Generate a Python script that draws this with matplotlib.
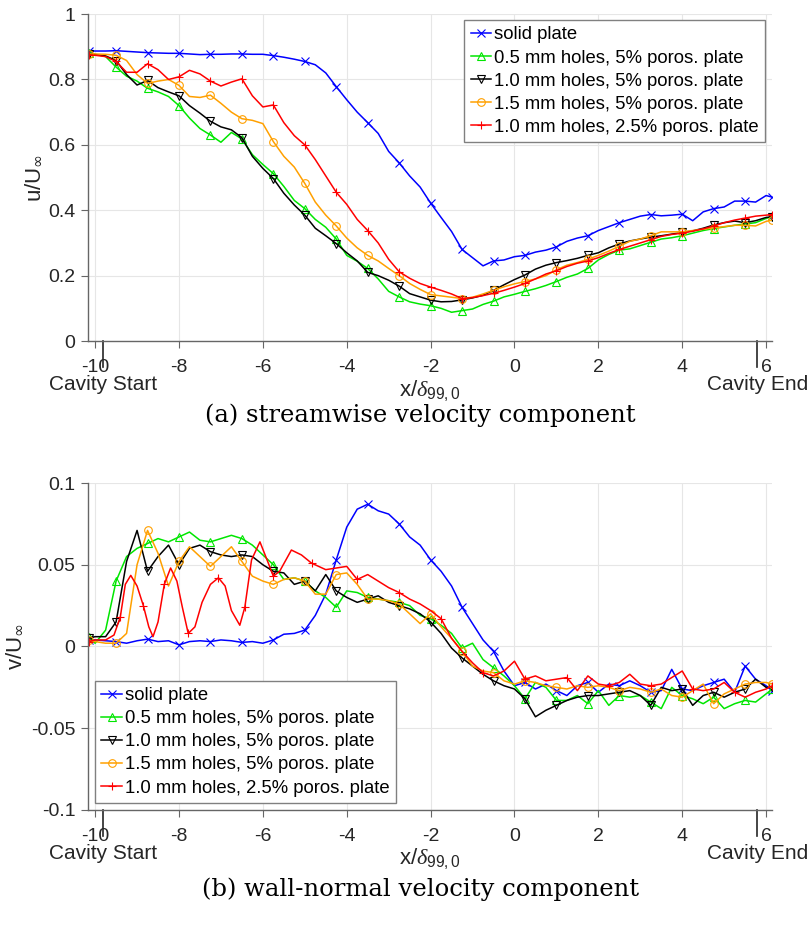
import matplotlib
matplotlib.use("Agg")
import matplotlib.pyplot as plt
from matplotlib.ticker import FuncFormatter
from matplotlib.transforms import blended_transform_factory

plt.rcParams['font.family'] = ['Liberation Sans', 'DejaVu Sans']
plt.rcParams['axes.unicode_minus'] = False
plt.rcParams['mathtext.fontset'] = 'custom'
plt.rcParams['mathtext.rm'] = 'Liberation Sans'
plt.rcParams['mathtext.it'] = 'Liberation Serif:italic'
plt.rcParams['mathtext.bf'] = 'Liberation Sans:bold'

# x/delta_99,0 sample positions (shared by most series)
x_pos = [-10.15, -10.0, -9.75, -9.5, -9.25, -9.0, -8.75, -8.5, -8.25, -8.0,
         -7.75, -7.5, -7.25, -7.0, -6.75, -6.5, -6.25, -6.0, -5.75, -5.5,
         -5.25, -5.0, -4.75, -4.5, -4.25, -4.0, -3.75, -3.5, -3.25, -3.0,
         -2.75, -2.5, -2.25, -2.0, -1.75, -1.5, -1.25, -1.0, -0.75, -0.5,
         -0.25, 0.0, 0.25, 0.5, 0.75, 1.0, 1.25, 1.5, 1.75, 2.0,
         2.25, 2.5, 2.75, 3.0, 3.25, 3.5, 3.75, 4.0, 4.25, 4.5,
         4.75, 5.0, 5.25, 5.5, 5.75, 6.0, 6.15]

# streamwise velocity u/U_inf
u_solid = [0.888, 0.887, 0.887, 0.888, 0.886, 0.884, 0.882, 0.881, 0.880, 0.880,
           0.878, 0.876, 0.877, 0.877, 0.878, 0.878, 0.877, 0.877, 0.873, 0.868,
           0.862, 0.855, 0.845, 0.820, 0.778, 0.738, 0.700, 0.668, 0.635, 0.580,
           0.545, 0.505, 0.471, 0.422, 0.378, 0.335, 0.280, 0.255, 0.230, 0.245,
           0.248, 0.258, 0.262, 0.272, 0.278, 0.288, 0.305, 0.315, 0.322, 0.338,
           0.350, 0.362, 0.372, 0.382, 0.387, 0.383, 0.385, 0.388, 0.368, 0.395,
           0.405, 0.410, 0.428, 0.428, 0.425, 0.445, 0.440]
u_05 = [0.880, 0.877, 0.870, 0.838, 0.810, 0.795, 0.773, 0.762, 0.748, 0.720,
        0.682, 0.650, 0.630, 0.608, 0.638, 0.618, 0.570, 0.540, 0.512, 0.473,
        0.430, 0.405, 0.372, 0.348, 0.312, 0.262, 0.244, 0.222, 0.190, 0.152,
        0.135, 0.120, 0.113, 0.108, 0.100, 0.088, 0.093, 0.098, 0.112, 0.122,
        0.135, 0.143, 0.152, 0.160, 0.170, 0.182, 0.195, 0.205, 0.222, 0.248,
        0.265, 0.278, 0.282, 0.292, 0.302, 0.312, 0.316, 0.322, 0.330, 0.338,
        0.344, 0.349, 0.354, 0.358, 0.362, 0.375, 0.382]
u_10 = [0.877, 0.876, 0.872, 0.858, 0.815, 0.783, 0.797, 0.775, 0.762, 0.750,
        0.720, 0.697, 0.672, 0.655, 0.646, 0.622, 0.565, 0.528, 0.497, 0.452,
        0.416, 0.385, 0.345, 0.322, 0.298, 0.270, 0.245, 0.210, 0.200, 0.186,
        0.168, 0.145, 0.135, 0.125, 0.120, 0.121, 0.126, 0.132, 0.140, 0.155,
        0.172, 0.188, 0.202, 0.220, 0.232, 0.240, 0.246, 0.253, 0.262, 0.270,
        0.285, 0.297, 0.306, 0.312, 0.318, 0.322, 0.327, 0.332, 0.337, 0.345,
        0.355, 0.362, 0.367, 0.362, 0.368, 0.378, 0.380]
u_15 = [0.878, 0.878, 0.877, 0.874, 0.858, 0.815, 0.788, 0.795, 0.800, 0.782,
        0.748, 0.745, 0.752, 0.727, 0.700, 0.680, 0.675, 0.665, 0.610, 0.565,
        0.532, 0.482, 0.425, 0.385, 0.352, 0.315, 0.285, 0.262, 0.245, 0.222,
        0.200, 0.176, 0.158, 0.142, 0.138, 0.134, 0.130, 0.134, 0.144, 0.155,
        0.166, 0.175, 0.182, 0.190, 0.200, 0.218, 0.232, 0.240, 0.250, 0.262,
        0.275, 0.290, 0.305, 0.312, 0.322, 0.334, 0.334, 0.334, 0.338, 0.342,
        0.346, 0.350, 0.354, 0.354, 0.352, 0.366, 0.370]
u_25 = [0.875, 0.874, 0.870, 0.855, 0.822, 0.822, 0.848, 0.830, 0.800, 0.808,
        0.828, 0.817, 0.795, 0.780, 0.792, 0.802, 0.750, 0.716, 0.722, 0.668,
        0.628, 0.600, 0.555, 0.505, 0.455, 0.418, 0.372, 0.338, 0.300, 0.250,
        0.212, 0.192, 0.176, 0.165, 0.155, 0.144, 0.130, 0.133, 0.139, 0.146,
        0.155, 0.165, 0.176, 0.190, 0.205, 0.215, 0.228, 0.238, 0.245, 0.255,
        0.268, 0.280, 0.290, 0.300, 0.310, 0.320, 0.326, 0.330, 0.336, 0.343,
        0.352, 0.362, 0.370, 0.376, 0.382, 0.385, 0.387]

# wall-normal velocity v/U_inf
v_solid = [0.004, 0.004, 0.0035, 0.003, 0.002, 0.0035, 0.0045, 0.003, 0.0035, 0.001,
           0.003, 0.0035, 0.003, 0.004, 0.0035, 0.0025, 0.003, 0.002, 0.004, 0.0075,
           0.008, 0.010, 0.019, 0.032, 0.053, 0.073, 0.084, 0.087, 0.083, 0.081,
           0.075, 0.067, 0.062, 0.053, 0.046, 0.037, 0.024, 0.014, 0.004, -0.003,
           -0.015, -0.024, -0.022, -0.026, -0.023, -0.027, -0.030, -0.024, -0.022, -0.028,
           -0.023, -0.024, -0.021, -0.024, -0.028, -0.027, -0.014, -0.026, -0.027, -0.024,
           -0.022, -0.020, -0.028, -0.012, -0.020, -0.024, -0.027]
v_05 = [0.006, 0.002, 0.010, 0.040, 0.055, 0.060, 0.063, 0.066, 0.064, 0.067,
        0.070, 0.065, 0.064, 0.066, 0.068, 0.066, 0.062, 0.056, 0.050, 0.041,
        0.042, 0.040, 0.034, 0.030, 0.024, 0.034, 0.033, 0.030, 0.029, 0.028,
        0.027, 0.025, 0.019, 0.017, 0.013, 0.008, -0.001, 0.002, -0.008, -0.013,
        -0.018, -0.024, -0.032, -0.022, -0.025, -0.033, -0.033, -0.030, -0.035, -0.027,
        -0.036, -0.030, -0.031, -0.030, -0.034, -0.038, -0.025, -0.030, -0.032, -0.035,
        -0.031, -0.038, -0.035, -0.033, -0.034, -0.029, -0.026]
v_10 = [0.005, 0.006, 0.006, 0.015, 0.052, 0.071, 0.046, 0.055, 0.062, 0.050,
        0.060, 0.062, 0.058, 0.056, 0.055, 0.056, 0.055, 0.050, 0.046, 0.045,
        0.038, 0.040, 0.034, 0.044, 0.034, 0.030, 0.027, 0.029, 0.031, 0.027,
        0.025, 0.023, 0.020, 0.015, 0.008, -0.001, -0.007, -0.012, -0.017, -0.021,
        -0.024, -0.026, -0.032, -0.043, -0.039, -0.036, -0.033, -0.031, -0.030, -0.030,
        -0.029, -0.028, -0.027, -0.030, -0.036, -0.025, -0.027, -0.026, -0.036, -0.030,
        -0.028, -0.031, -0.028, -0.026, -0.020, -0.025, -0.025]
v_15 = [0.004, 0.003, 0.002, 0.002, 0.008, 0.050, 0.071, 0.057, 0.037, 0.052,
        0.061, 0.055, 0.049, 0.055, 0.061, 0.052, 0.043, 0.040, 0.038, 0.041,
        0.042, 0.040, 0.032, 0.032, 0.044, 0.045, 0.038, 0.029, 0.029, 0.028,
        0.026, 0.020, 0.014, 0.020, 0.012, 0.005, -0.003, -0.012, -0.015, -0.016,
        -0.021, -0.023, -0.021, -0.022, -0.024, -0.025, -0.026, -0.024, -0.025, -0.024,
        -0.025, -0.027, -0.025, -0.026, -0.028, -0.026, -0.030, -0.031, -0.027, -0.023,
        -0.035, -0.029, -0.026, -0.023, -0.022, -0.022, -0.023]
# red series oscillates fast near the cavity start, so it gets its own positions
x_pos_25 = [-10.15, -10.0, -9.75, -9.55, -9.4, -9.28, -9.15, -9.0, -8.85, -8.72,
            -8.62, -8.5, -8.35, -8.2, -8.05, -7.92, -7.78, -7.62, -7.45, -7.25,
            -7.06, -6.9, -6.75, -6.55, -6.43, -6.27, -6.07, -5.87, -5.75, -5.6,
            -5.32, -5.08, -4.84, -4.5, -4.25, -4.0, -3.75, -3.5, -3.25, -3.0,
            -2.75, -2.5, -2.25, -2.0, -1.75, -1.5, -1.25, -1.0, -0.75, -0.5,
            -0.25, 0.0, 0.25, 0.5, 0.75, 1.0, 1.25, 1.5, 1.75, 2.0,
            2.25, 2.5, 2.75, 3.0, 3.25, 3.5, 3.75, 4.0, 4.25, 4.5,
            4.75, 5.0, 5.25, 5.5, 5.75, 6.0, 6.15]
v_25 = [0.003, 0.004, 0.004, 0.007, 0.018, 0.038, 0.0435, 0.037, 0.025, 0.012,
        0.006, 0.015, 0.038, 0.048, 0.040, 0.024, 0.008, 0.012, 0.027, 0.038,
        0.042, 0.037, 0.022, 0.013, 0.024, 0.053, 0.064, 0.051, 0.043, 0.046,
        0.059, 0.056, 0.051, 0.047, 0.048, 0.049, 0.041, 0.044, 0.040, 0.036,
        0.033, 0.029, 0.026, 0.022, 0.017, 0.005, -0.003, -0.010, -0.016, -0.018,
        -0.015, -0.009, -0.020, -0.018, -0.021, -0.020, -0.019, -0.027, -0.018, -0.023,
        -0.024, -0.022, -0.017, -0.023, -0.024, -0.023, -0.019, -0.015, -0.026, -0.027,
        -0.026, -0.022, -0.028, -0.031, -0.028, -0.026, -0.024]

labels = ['solid plate', '0.5 mm holes, 5% poros. plate', '1.0 mm holes, 5% poros. plate',
          '1.5 mm holes, 5% poros. plate', '1.0 mm holes, 2.5% poros. plate']
colors = ['#0000ff', '#00e600', '#000000', '#ffa000', '#ff0000']
markers = ['x', '^', 'v', 'o', '+']

cavity_start = -9.81
cavity_end = 5.79
x_ticks = [-10, -8, -6, -4, -2, 0, 2, 4, 6]

fig = plt.figure(figsize=(8.08, 9.26), dpi=100)
ax_u = fig.add_axes([0.1089, 0.6317, 0.8465, 0.3531])
ax_v = fig.add_axes([0.1089, 0.1253, 0.8465, 0.3531])

u_series = [(x_pos, u_solid), (x_pos, u_05), (x_pos, u_10), (x_pos, u_15), (x_pos, u_25)]
v_series = [(x_pos, v_solid), (x_pos, v_05), (x_pos, v_10), (x_pos, v_15), (x_pos_25, v_25)]

fmt = FuncFormatter(lambda v, p: '%g' % v)


def style_axes(ax, ylim, yticks, ylabel, ylabel_x):
    ax.set_xlim(-10.17, 6.14)
    ax.set_ylim(*ylim)
    ax.set_xticks(x_ticks)
    ax.set_yticks(yticks)
    ax.xaxis.set_major_formatter(fmt)
    ax.yaxis.set_major_formatter(fmt)
    ax.grid(True, color='#e6e6e6', linewidth=0.8)
    ax.set_axisbelow(True)
    for s in ['top', 'right']:
        ax.spines[s].set_visible(False)
    for s in ['left', 'bottom']:
        ax.spines[s].set_color('0.4')
        ax.spines[s].set_linewidth(1.0)
    ax.tick_params(direction='out', length=5, width=0.8, color='0.4',
                   labelcolor='0.15', labelsize=14)
    ax.tick_params(axis='x', pad=8)
    ax.tick_params(axis='y', pad=4)
    ax.set_xlabel(r'x/$\delta_{99,0}$', fontsize=16, color='0.15')
    ax.xaxis.set_label_coords(0.5, -0.112)
    # the infinity sign is drawn from DejaVu math fonts, Liberation's one is tiny
    ax.set_ylabel(ylabel, fontsize=16, color='0.15', math_fontfamily='dejavusans')
    ax.yaxis.set_label_coords(ylabel_x, 0.5)
    tr = blended_transform_factory(ax.transData, ax.transAxes)
    for xc, name in [(cavity_start, 'Cavity Start'), (cavity_end, 'Cavity End')]:
        ax.plot([xc, xc], [0, -0.08], transform=tr, clip_on=False, color='0.15', lw=1.2)
        ax.text(xc, -0.105, name, transform=tr, ha='center', va='top',
                fontsize=15, color='0.15')


for ax, series in [(ax_u, u_series), (ax_v, v_series)]:
    for (xs, ys), lab, c, m in zip(series, labels, colors, markers):
        every = 4 if xs is x_pos_25 else 3
        ax.plot(xs, ys, color=c, lw=1.1, marker=m, markevery=every, markersize=5.5,
                markerfacecolor='none', markeredgewidth=0.8, label=lab)

style_axes(ax_u, (0, 1), [0, 0.2, 0.4, 0.6, 0.8, 1.0], r'u/U$_{\infty}$', -0.064)
style_axes(ax_v, (-0.1, 0.1), [-0.1, -0.05, 0, 0.05, 0.1], r'v/U$_{\infty}$', -0.092)

leg_kw = dict(fontsize=13.3, handlelength=1.1, handletextpad=0.15, labelspacing=0.33,
              borderpad=0.35, borderaxespad=0, fancybox=False, framealpha=1)
leg = ax_u.legend(loc='upper right', bbox_to_anchor=(0.99, 0.982), **leg_kw)
leg.get_frame().set_edgecolor('0.5')
leg = ax_v.legend(loc='lower left', bbox_to_anchor=(0.0102, 0.0214), **leg_kw)
leg.get_frame().set_edgecolor('0.5')

fig.text(0.52, 0.552, '(a) streamwise velocity component', ha='center', va='center',
         fontsize=17.5, family='DejaVu Serif')
fig.text(0.52, 0.040, '(b) wall-normal velocity component', ha='center', va='center',
         fontsize=17.5, family='DejaVu Serif')

fig.savefig('out.png', dpi=100, facecolor='white')
